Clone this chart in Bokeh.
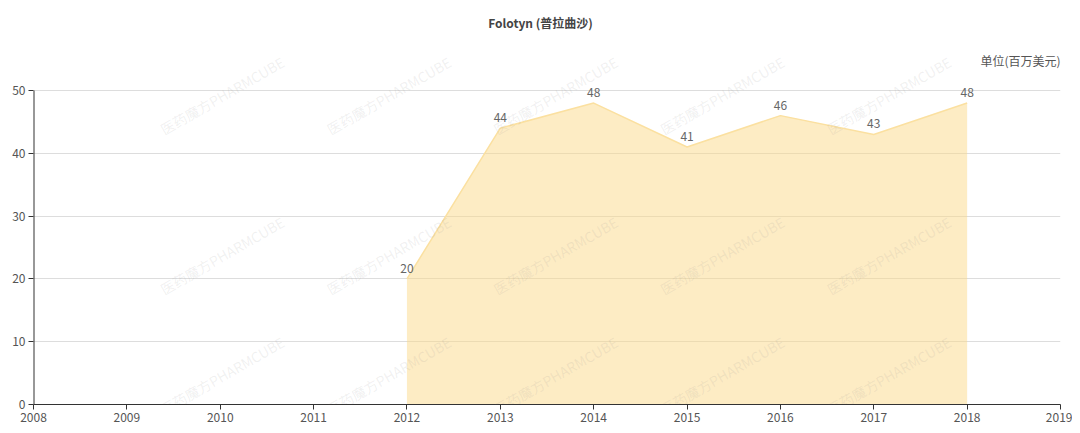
from bokeh.plotting import figure
from bokeh.models import ColumnDataSource, LabelSet, Label, FixedTicker, Range1d
from bokeh.core.properties import value
from bokeh.embed import file_html
from bokeh.resources import INLINE

# data
years = [2012, 2013, 2014, 2015, 2016, 2017, 2018]
sales = [20, 44, 48, 41, 46, 43, 48]
x_ticks = list(range(2008, 2020))
y_ticks = [0, 10, 20, 30, 40, 50]
title_text = "Folotyn (普拉曲沙)"
unit_text = "单位(百万美元)"
mark_text = "医药魔方PHARMCUBE"

FONT = "Noto Sans CJK SC"

# page pixel layout of the plot box (50 sits at y=90, 0 at y=404)
X0, X1, Y0, Y50 = 33, 1060, 404, 90
y_top = 50 * Y0 / (Y0 - Y50)   # frame runs up to the top of the page so texts are not clipped


def px_to_data(px, py):
    return 2008 + (px - X0) / ((X1 - X0) / 11), (Y0 - py) / ((Y0 - Y50) / 50)


src = ColumnDataSource(dict(x=years, y=sales, lab=[str(v) for v in sales]))

p = figure(width=1072, height=425, output_backend="svg", toolbar_location=None,
           x_range=Range1d(2008, 2019), y_range=Range1d(0, y_top),
           min_border_left=X0, min_border_right=12, min_border_top=0, min_border_bottom=21)
p.outline_line_color = None
p.background_fill_color = "white"

# watermark lattice (inner columns only, edge ones would be cut)
for cy in (95, 255, 375):
    for i in range(1, 6):
        dx, dy = px_to_data(55 + i * 166.7, cy)
        p.add_layout(Label(x=dx, y=dy, text=mark_text, angle=0.52, text_align="center",
                           text_baseline="middle", text_font=FONT, text_font_size="14px",
                           text_color="#888888", text_alpha=0.12))

# area
p.varea(x="x", y1=0, y2="y", source=src, fill_color="#fbd98a", fill_alpha=0.5)
p.line(x="x", y="y", source=src, line_color="#fbe0a0", line_width=1.5)

# axes
for ax in (p.xaxis[0], p.yaxis[0]):
    ax.axis_line_color = "#333333"
    ax.major_tick_line_color = "#333333"
    ax.major_tick_out = 5
    ax.major_tick_in = 0
    ax.minor_tick_line_color = None
    ax.major_label_text_font = FONT
    ax.major_label_text_font_size = "12px"
    ax.major_label_text_color = "#555555"
    ax.major_label_standoff = 3
p.yaxis.axis_line_color = None
p.segment(x0=[2008], y0=[0], x1=[2008], y1=[50], line_color="#333333", line_width=2)
p.xaxis.ticker = FixedTicker(ticks=x_ticks)
p.yaxis.ticker = FixedTicker(ticks=y_ticks)
p.xgrid.grid_line_color = None
p.ygrid.grid_line_color = "#dddddd"
p.ygrid.ticker = FixedTicker(ticks=y_ticks)

# value labels
p.add_layout(LabelSet(x="x", y="y", text="lab", source=src, y_offset=6,
                      text_align="center", text_baseline="bottom",
                      text_font=value(FONT), text_font_size="12px", text_color="#666666"))

# title and unit
tx, ty = px_to_data(540, 22)
p.add_layout(Label(x=tx, y=ty, text=title_text, text_align="center", text_baseline="middle",
                   text_font=FONT, text_font_size="12px", text_font_style="bold",
                   text_color="#444444"))
ux, uy = px_to_data(X1, 60)
p.add_layout(Label(x=ux, y=uy, text=unit_text, text_align="right", text_baseline="middle",
                   text_font=FONT, text_font_size="12px", text_color="#555555"))

open("out.html", "w").write(file_html(p, INLINE))
